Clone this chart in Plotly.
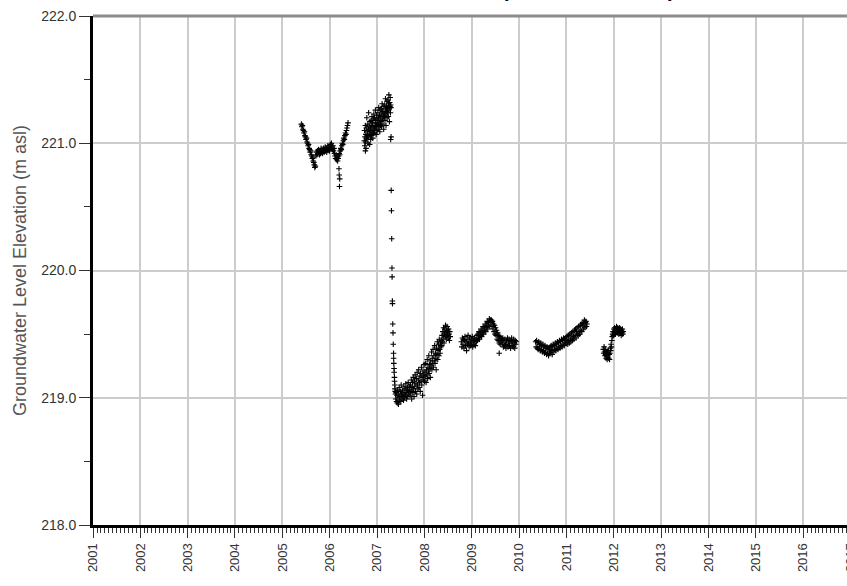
import pandas as pd
import plotly.graph_objects as go

# ---- logger readings (groundwater level, m asl) ----
# each run: first reading date, logging interval in days, readings
run_a_start, run_a_step = "2005-05-27", 4
run_a_values = [
    221.15, 221.13, 221.14, 221.11, 221.10, 221.08, 221.09, 221.06, 221.05, 221.03,
    221.04, 221.01, 221.00, 220.98, 220.99, 220.96, 220.95, 220.93, 220.94, 220.91,
    220.90, 220.88, 220.89, 220.86, 220.85, 220.83, 220.81, 220.82,
    220.90, 220.93, 220.91, 220.94, 220.92, 220.95, 220.93, 220.91, 220.94, 220.92,
    220.96, 220.93, 220.95, 220.92, 220.94, 220.96, 220.93, 220.95, 220.97, 220.94,
    220.96, 220.93, 220.95, 220.98, 220.95, 220.97, 220.94, 220.96, 220.99, 220.96,
    221.00, 220.97, 220.95, 220.98, 220.94, 220.96,
    220.92, 220.90, 220.88, 220.91, 220.87, 220.89, 220.86,
    220.88, 220.90, 220.92, 220.91, 220.94, 220.96, 220.95, 220.98, 221.00, 220.99,
    221.02, 221.04, 221.03, 221.06, 221.08, 221.07, 221.10, 221.12, 221.14, 221.16,
]

run_b_start, run_b_step = "2006-09-24", 2
run_b_values = [
    221.02, 221.10, 220.98, 221.05, 221.14, 221.01, 221.07, 220.96, 221.12, 221.04, 221.20, 221.03, 221.09,
    221.06, 221.15, 221.00, 221.11, 221.24, 221.05, 221.13, 221.08, 220.99, 221.17, 221.07, 221.12, 221.03,
    221.10, 221.18, 221.06, 221.14, 221.21, 221.09, 221.16, 221.04, 221.13, 221.19, 221.08, 221.23, 221.11,
    221.12, 221.20, 221.08, 221.16, 221.26, 221.13, 221.18, 221.07, 221.22, 221.14, 221.10, 221.19, 221.15,
    221.15, 221.24, 221.11, 221.20, 221.28, 221.16, 221.13, 221.22, 221.09, 221.26, 221.18, 221.14, 221.21,
    221.17, 221.27, 221.13, 221.23, 221.31, 221.19, 221.25, 221.15, 221.29, 221.21, 221.11, 221.24, 221.20,
    221.22, 221.30, 221.18, 221.27, 221.35, 221.23, 221.14, 221.29, 221.25, 221.33, 221.20, 221.28, 221.24,
    221.26, 221.34, 221.21, 221.31, 221.38, 221.27, 221.17, 221.32, 221.29, 221.36, 221.24, 221.30, 221.28,
]

# rapid decline, spring 2007
drop_dates = [
    "2007-04-20", "2007-04-22", "2007-04-24", "2007-04-26", "2007-04-27", "2007-04-29",
    "2007-04-30", "2007-05-02", "2007-05-04", "2007-05-06", "2007-05-08", "2007-05-09",
    "2007-05-10", "2007-05-12", "2007-05-13", "2007-05-15", "2007-05-16", "2007-05-18",
    "2007-05-19", "2007-05-21", "2007-05-23",
]
drop_values = [
    220.63, 220.47, 220.25, 220.02, 219.95, 219.76,
    219.74, 219.58, 219.51, 219.42, 219.35, 219.31,
    219.27, 219.23, 219.20, 219.16, 219.13, 219.10,
    219.07, 219.05, 219.03,
]

run_c_start, run_c_step = "2007-05-25", 3
run_c_values = [
    218.99, 219.04, 218.97, 219.02, 218.96, 219.06, 219.00, 218.95, 219.03, 219.08,
    218.98, 219.01, 219.05, 218.97, 219.10, 219.02, 218.99, 219.06, 219.01, 219.04,
    218.98, 219.09, 219.03, 219.00, 219.07, 219.02, 219.11, 219.04, 218.99, 219.06,
    219.08, 219.01, 219.12, 219.05, 219.03, 219.09, 219.06,
    219.02, 219.10, 219.05, 219.14, 218.99, 219.08, 219.12, 219.04, 219.16, 219.07,
    219.01, 219.13, 219.09, 219.18, 219.05, 219.11, 219.15, 219.03, 219.20, 219.10,
    219.07, 219.14, 219.22, 219.08, 219.12, 219.17, 219.05, 219.19, 219.13, 219.24,
    219.10, 219.16, 219.02, 219.21, 219.14, 219.18, 219.26,
    219.13, 219.20, 219.17, 219.27, 219.12, 219.22, 219.18, 219.30, 219.15, 219.24,
    219.21, 219.33, 219.19, 219.26, 219.23, 219.16, 219.29, 219.25, 219.36, 219.22,
    219.31, 219.27, 219.38, 219.24, 219.33, 219.29, 219.41, 219.27, 219.35, 219.31,
    219.22, 219.39, 219.34, 219.44, 219.30, 219.37, 219.42, 219.33, 219.46, 219.38,
    219.35, 219.43, 219.40,
    219.45, 219.41, 219.49, 219.44, 219.52, 219.47, 219.55, 219.43, 219.50, 219.54,
    219.48, 219.57, 219.51, 219.46, 219.53, 219.56, 219.49, 219.52, 219.47, 219.54,
    219.50, 219.45, 219.52, 219.48,
]

run_d_start, run_d_step = "2008-10-12", 4
run_d_values = [
    219.44, 219.40, 219.47, 219.42, 219.46, 219.39, 219.45, 219.48, 219.41, 219.44,
    219.37, 219.46, 219.42, 219.49, 219.43, 219.40, 219.47, 219.44, 219.41, 219.46,
    219.43, 219.48, 219.40, 219.45, 219.42, 219.47, 219.44, 219.41, 219.46,
    219.44, 219.49, 219.45, 219.50, 219.47, 219.52, 219.46, 219.51, 219.49, 219.54,
    219.48, 219.53, 219.51, 219.56, 219.50, 219.55, 219.53, 219.58, 219.52, 219.57,
    219.55, 219.60, 219.54, 219.59, 219.57, 219.62, 219.56, 219.61, 219.59,
    219.61, 219.56, 219.60, 219.54, 219.58, 219.52, 219.57, 219.50, 219.55, 219.49,
    219.53, 219.46, 219.51, 219.45, 219.49, 219.43, 219.48, 219.42, 219.47, 219.44,
    219.46,
    219.43, 219.47, 219.40, 219.45, 219.41, 219.46, 219.42, 219.39, 219.45, 219.42,
    219.47, 219.40, 219.44, 219.46, 219.41, 219.45, 219.39, 219.43, 219.47, 219.41,
    219.44, 219.40, 219.46, 219.43, 219.39, 219.45, 219.42, 219.44,
]

run_e_start, run_e_step = "2010-05-08", 4
run_e_values = [
    219.44, 219.40, 219.45, 219.39, 219.43, 219.38, 219.44, 219.40, 219.42, 219.37,
    219.43, 219.38, 219.41, 219.36, 219.42, 219.37, 219.40, 219.35, 219.41, 219.36,
    219.39, 219.34, 219.40, 219.35, 219.39, 219.33, 219.38,
    219.35, 219.40, 219.36, 219.41, 219.37, 219.34, 219.40, 219.42, 219.36, 219.41,
    219.38, 219.43, 219.37, 219.42, 219.39, 219.44, 219.38, 219.43, 219.40, 219.45,
    219.39, 219.44, 219.41, 219.46, 219.40, 219.45, 219.42, 219.47, 219.41, 219.46,
    219.43, 219.47,
    219.43, 219.48, 219.44, 219.42, 219.49, 219.45, 219.43, 219.50, 219.46, 219.44,
    219.51, 219.47, 219.45, 219.52, 219.48, 219.46, 219.53, 219.49, 219.54, 219.47,
    219.52, 219.55, 219.50, 219.49, 219.56, 219.52, 219.50, 219.57, 219.53, 219.58,
    219.52, 219.57, 219.59, 219.54, 219.58, 219.61, 219.55, 219.59, 219.60, 219.56,
    219.58,
]

run_f_start, run_f_step = "2011-10-12", 3
run_f_values = [
    219.38, 219.35, 219.40, 219.36, 219.33, 219.38, 219.34, 219.31, 219.36, 219.33,
    219.30, 219.35, 219.32, 219.37, 219.31, 219.34, 219.30,
    219.35, 219.39, 219.37, 219.42, 219.40, 219.45, 219.48, 219.50,
    219.52, 219.49, 219.54, 219.51, 219.55, 219.53, 219.50, 219.54, 219.52, 219.56,
    219.53, 219.51, 219.55, 219.52, 219.54, 219.50, 219.53, 219.55, 219.51, 219.54,
    219.52, 219.49, 219.53, 219.51, 219.54, 219.50, 219.52,
]

# isolated readings off the main trend
spike_dates = ["2006-03-13", "2006-03-15", "2006-03-17", "2006-03-19",
               "2006-10-03", "2007-04-16", "2007-04-19", "2009-07-31"]
spike_values = [220.80, 220.75, 220.66, 220.72,
                220.94, 221.03, 221.05, 219.35]

# axis settings
y_range = [218.0, 222.0]
x_range = ["2001-01-01", "2018-01-01"]
y_title = "Groundwater Level Elevation (m asl)"
chart_title = "MW-2005-01 (Overburden Well)"

runs = [
    (run_a_start, run_a_step, run_a_values),
    (run_b_start, run_b_step, run_b_values),
    (run_c_start, run_c_step, run_c_values),
    (run_d_start, run_d_step, run_d_values),
    (run_e_start, run_e_step, run_e_values),
    (run_f_start, run_f_step, run_f_values),
]

x_all, y_all = [], []
for start, step, vals in runs:
    x_all.extend(pd.date_range(start, periods=len(vals), freq=f"{step}D"))
    y_all.extend(vals)
x_all.extend(pd.to_datetime(drop_dates))
y_all.extend(drop_values)
x_all.extend(pd.to_datetime(spike_dates))
y_all.extend(spike_values)

FONT = "Arial, 'Liberation Sans', sans-serif"

fig = go.Figure()
fig.add_trace(go.Scatter(
    x=x_all, y=y_all, mode="markers",
    marker=dict(symbol="cross-thin", size=4, color="black",
                line=dict(width=1.1, color="black")),
    showlegend=False, hoverinfo="x+y",
))

W, H = 940, 586
L, T, B = 93, 16, 61
plot_w = 804.6
R = W - L - plot_w

fig.update_layout(
    width=W, height=H,
    margin=dict(l=L, r=R, t=T, b=B, pad=0),
    paper_bgcolor="white", plot_bgcolor="white",
    font=dict(family=FONT, color="#333333"),
)

fig.update_xaxes(
    type="date", range=x_range, automargin=False,
    tick0="2001-01-01", dtick="M12", tickformat="%Y", tickangle=-90,
    ticks="outside", ticklen=10, tickwidth=1, tickcolor="#333333",
    tickfont=dict(size=13, color="#333333"),
    showgrid=True, gridcolor="#cccccc", gridwidth=1.5,
    showline=True, linecolor="black", linewidth=3,
    minor=dict(dtick="M1", ticks="outside", ticklen=5, tickwidth=1,
               tickcolor="#333333", showgrid=False),
    zeroline=False,
)
fig.update_yaxes(
    range=y_range, automargin=False,
    tick0=218, dtick=1, tickformat=".1f",
    ticks="outside", ticklen=11, tickwidth=1, tickcolor="#333333",
    tickfont=dict(size=14, color="#333333"),
    showgrid=True, gridcolor="#cccccc", gridwidth=1.5,
    showline=True, linecolor="black", linewidth=3,
    minor=dict(dtick=0.5, ticks="outside", ticklen=6, tickwidth=1,
               tickcolor="#333333", showgrid=False),
    zeroline=False,
    title=dict(text=y_title, font=dict(size=18, color="#555555"), standoff=10),
)

# grey frame line along the top of the plot
fig.add_shape(type="line", xref="paper", yref="paper", x0=0, x1=1, y0=1, y1=1,
              line=dict(color="#8c8c8c", width=3), layer="above")

# chart title
fig.add_annotation(
    text=f"<b>{chart_title}</b>", xref="paper", yref="paper",
    x=(677 - L) / plot_w, y=1 + (T - 3.5) / (H - T - B),
    xanchor="right", yanchor="bottom", showarrow=False,
    font=dict(size=20, color="black", family=FONT),
)

fig.write_html(
    "out.html",
    post_script="document.documentElement.style.overflow='hidden';"
                "document.body.style.overflow='hidden';",
)
